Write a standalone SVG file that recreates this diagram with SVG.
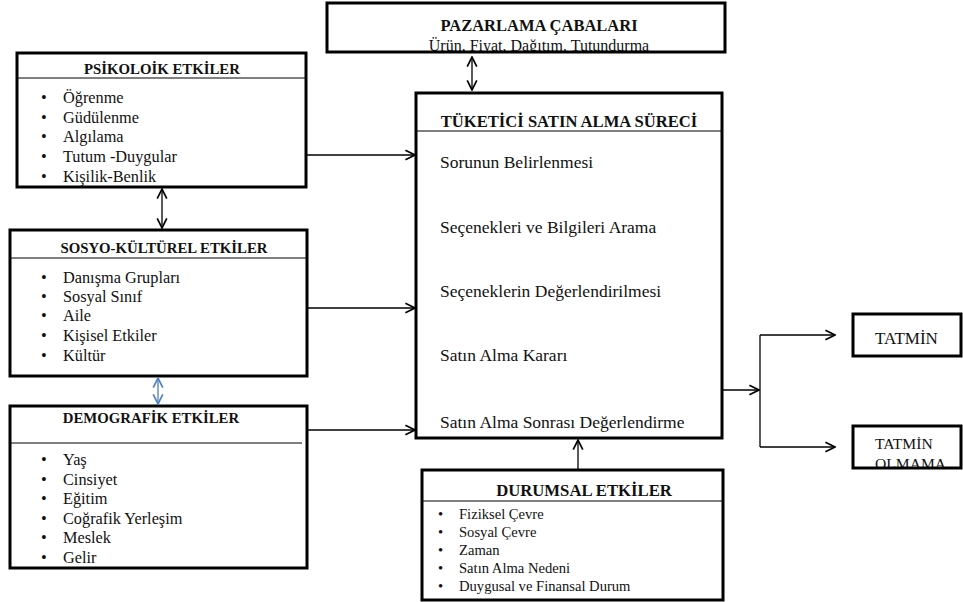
<svg xmlns="http://www.w3.org/2000/svg" width="963" height="602" viewBox="0 0 963 602">
  <style>
    .box { fill: none; stroke: #000; stroke-width: 3; }
    .bg { fill: #fff; }
    .rule { stroke: #000; stroke-width: 1; }
    .title { font-family: "Liberation Serif", "Times New Roman", serif; font-weight: bold; font-size: 14.8px; fill: #111; text-anchor: middle; }
    .item { font-family: "Liberation Serif", "Times New Roman", serif; font-size: 16.3px; fill: #111; }
    .step { font-family: "Liberation Serif", "Times New Roman", serif; font-size: 17.5px; fill: #111; }
    .small { font-family: "Liberation Serif", "Times New Roman", serif; font-size: 14.6px; fill: #111; }
    .conn { stroke: #000; stroke-width: 1.3; fill: none; marker-end: url(#arr); }
    .both { marker-start: url(#arr); }
    .blue { stroke: #4f81bd; }
    .blue.both { marker-start: url(#arrb); marker-end: url(#arrb); }
  </style>
  <defs>
    <marker id="arr" markerUnits="userSpaceOnUse" markerWidth="12" markerHeight="12" viewBox="0 0 10 10" refX="9" refY="5" orient="auto-start-reverse">
      <path d="M1,1 L9,5 L1,9" fill="none" stroke="#000" stroke-width="1.4"/>
    </marker>
    <marker id="arrb" markerUnits="userSpaceOnUse" markerWidth="12" markerHeight="12" viewBox="0 0 10 10" refX="9" refY="5" orient="auto-start-reverse">
      <path d="M1,1 L9,5 L1,9" fill="none" stroke="#4f81bd" stroke-width="1.4"/>
    </marker>
  </defs>

  <rect class="bg" x="0" y="0" width="963" height="602"/>

  <!-- marketing efforts -->
  <g id="pazarlama">
    <text class="title" x="539" y="31" style="font-size:16.5px">PAZARLAMA ÇABALARI</text>
    <text class="item" x="539" y="51" text-anchor="middle" style="font-size:16px">Ürün, Fiyat, Dağıtım, Tutundurma</text>
    <rect class="bg" x="325" y="53" width="402" height="6"/>
    <rect class="box" x="327" y="3" width="398" height="49"/>
  </g>

  <!-- psychological influences -->
  <g id="psikoloik">
    <rect class="box" x="17" y="53" width="289" height="134"/>
    <line class="rule" x1="17" y1="78" x2="306" y2="78"/>
    <text class="title" x="162" y="74">PSİKOLOİK ETKİLER</text>
    <g class="item">
      <text x="41" y="103">•</text><text x="63" y="103">Öğrenme</text>
      <text x="41" y="123">•</text><text x="63" y="123">Güdülenme</text>
      <text x="41" y="142">•</text><text x="63" y="142">Algılama</text>
      <text x="41" y="162">•</text><text x="63" y="162">Tutum -Duygular</text>
      <text x="41" y="182">•</text><text x="63" y="182">Kişilik-Benlik</text>
    </g>
  </g>

  <!-- socio-cultural influences -->
  <g id="sosyo">
    <rect class="box" x="10" y="230" width="297" height="146"/>
    <line class="rule" x1="10" y1="258" x2="307" y2="258"/>
    <text class="title" x="164" y="253">SOSYO-KÜLTÜREL ETKİLER</text>
    <g class="item">
      <text x="41" y="283">•</text><text x="63" y="283">Danışma Grupları</text>
      <text x="41" y="302">•</text><text x="63" y="302">Sosyal Sınıf</text>
      <text x="41" y="321">•</text><text x="63" y="321">Aile</text>
      <text x="41" y="341">•</text><text x="63" y="341">Kişisel Etkiler</text>
      <text x="41" y="361">•</text><text x="63" y="361">Kültür</text>
    </g>
  </g>

  <!-- demographic influences -->
  <g id="demografik">
    <rect class="box" x="10" y="406" width="297" height="162"/>
    <line class="rule" x1="10" y1="443" x2="302" y2="443"/>
    <text class="title" x="151" y="423">DEMOGRAFİK ETKİLER</text>
    <g class="item">
      <text x="41" y="465">•</text><text x="63" y="465">Yaş</text>
      <text x="41" y="485">•</text><text x="63" y="485">Cinsiyet</text>
      <text x="41" y="504">•</text><text x="63" y="504">Eğitim</text>
      <text x="41" y="524">•</text><text x="63" y="524">Coğrafik Yerleşim</text>
      <text x="41" y="543">•</text><text x="63" y="543">Meslek</text>
      <text x="41" y="563">•</text><text x="63" y="563">Gelir</text>
    </g>
  </g>

  <!-- consumer buying process -->
  <g id="surec">
    <rect class="box" x="416" y="93" width="306" height="345"/>
    <line class="rule" x1="416" y1="131" x2="722" y2="131"/>
    <text class="title" x="569" y="127" style="font-size:16.6px">TÜKETİCİ SATIN ALMA SÜRECİ</text>
    <g class="step">
      <text x="440" y="168">Sorunun Belirlenmesi</text>
      <text x="440" y="233">Seçenekleri ve Bilgileri  Arama</text>
      <text x="440" y="297">Seçeneklerin  Değerlendirilmesi</text>
      <text x="440" y="361">Satın Alma Kararı</text>
      <text x="440" y="428">Satın Alma Sonrası Değerlendirme</text>
    </g>
  </g>

  <!-- situational influences -->
  <g id="durumsal">
    <rect class="box" x="422" y="470" width="301" height="130"/>
    <line class="rule" x1="422" y1="501" x2="723" y2="501"/>
    <text class="title" x="584" y="496" style="font-size:16.7px">DURUMSAL ETKİLER</text>
    <g class="small">
      <text x="438" y="519">•</text><text x="459" y="519">Fiziksel Çevre</text>
      <text x="438" y="537">•</text><text x="459" y="537">Sosyal Çevre</text>
      <text x="438" y="555">•</text><text x="459" y="555">Zaman</text>
      <text x="438" y="573">•</text><text x="459" y="573">Satın Alma Nedeni</text>
      <text x="438" y="591">•</text><text x="459" y="591">Duygusal ve Finansal Durum</text>
    </g>
  </g>

  <!-- outcomes -->
  <g id="tatmin">
    <rect class="box" x="853" y="314" width="108" height="42"/>
    <text class="item" x="875" y="344" style="font-size:17px">TATMİN</text>
  </g>
  <g id="tatmin-olmama">
    <text class="small" x="875" y="449" style="font-size:15.6px">TATMİN</text>
    <text class="small" x="875" y="469" style="font-size:15.6px">OLMAMA</text>
    <rect class="bg" x="851" y="469" width="112" height="10"/>
    <rect class="box" x="853" y="426" width="108" height="42"/>
  </g>

  <!-- connectors -->
  <g id="connectors">
    <line class="conn both" x1="472" y1="57" x2="472" y2="90"/>
    <line class="conn" x1="306" y1="155" x2="415" y2="155"/>
    <line class="conn" x1="307" y1="308" x2="415" y2="308"/>
    <line class="conn" x1="307" y1="430" x2="415" y2="430"/>
    <line class="conn both" x1="162" y1="189" x2="162" y2="228"/>
    <line class="conn blue both" x1="158" y1="378" x2="158" y2="404"/>
    <line class="conn" x1="578" y1="469" x2="578" y2="440"/>
    <line class="conn" x1="722" y1="390" x2="759" y2="390"/>
    <line class="conn" x1="760" y1="335" x2="760" y2="447" style="marker-end:none"/>
    <line class="conn" x1="760" y1="335" x2="835" y2="335"/>
    <line class="conn" x1="760" y1="447" x2="835" y2="447"/>
  </g>
</svg>
